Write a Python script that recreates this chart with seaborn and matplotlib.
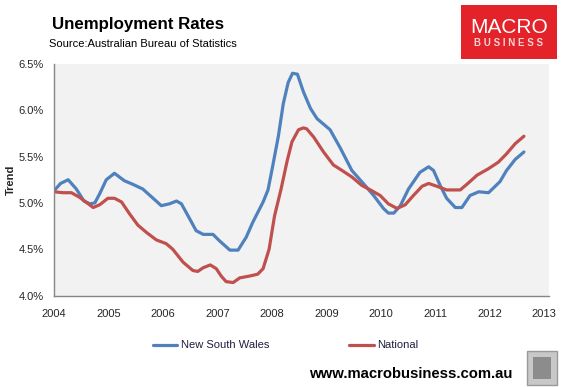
import matplotlib
matplotlib.use("Agg")
import matplotlib.pyplot as plt
import seaborn as sns
import pandas as pd
from matplotlib.patches import Rectangle

# ---- data ----
nsw_dates = [2004.00, 2004.12, 2004.26, 2004.41, 2004.55, 2004.66, 2004.75, 2004.84, 2004.96,
             2005.11, 2005.29, 2005.45, 2005.63, 2005.82, 2005.97, 2006.12, 2006.25, 2006.34,
             2006.49, 2006.61, 2006.74, 2006.92, 2007.04, 2007.23, 2007.38, 2007.53, 2007.65,
             2007.84, 2007.93, 2008.02, 2008.12, 2008.21, 2008.30, 2008.38, 2008.47, 2008.58,
             2008.71, 2008.83, 2009.07, 2009.26, 2009.47, 2009.68, 2009.87, 2010.05, 2010.14,
             2010.24, 2010.36, 2010.51, 2010.72, 2010.88, 2010.97, 2011.09, 2011.21, 2011.37,
             2011.49, 2011.64, 2011.80, 2011.98, 2012.19, 2012.31, 2012.47, 2012.63]
nsw_values = [5.13, 5.21, 5.25, 5.15, 5.02, 4.99, 5.00, 5.10, 5.25,
              5.32, 5.24, 5.20, 5.15, 5.05, 4.97, 4.99, 5.02, 4.99,
              4.83, 4.70, 4.66, 4.66, 4.59, 4.49, 4.49, 4.63, 4.79,
              5.01, 5.14, 5.41, 5.72, 6.07, 6.30, 6.40, 6.39, 6.20,
              6.02, 5.91, 5.79, 5.59, 5.35, 5.21, 5.08, 4.94, 4.89,
              4.89, 4.97, 5.15, 5.33, 5.39, 5.35, 5.19, 5.05, 4.95,
              4.95, 5.08, 5.12, 5.11, 5.23, 5.35, 5.47, 5.55]

nat_dates = [2004.00, 2004.17, 2004.32, 2004.47, 2004.72, 2004.84, 2004.99, 2005.11, 2005.24,
             2005.39, 2005.54, 2005.70, 2005.88, 2006.06, 2006.18, 2006.37, 2006.55, 2006.64,
             2006.74, 2006.87, 2006.98, 2007.07, 2007.16, 2007.29, 2007.41, 2007.59, 2007.74,
             2007.84, 2007.95, 2008.05, 2008.17, 2008.28, 2008.37, 2008.49, 2008.58, 2008.64,
             2008.77, 2008.95, 2009.13, 2009.29, 2009.47, 2009.65, 2009.81, 2009.99, 2010.14,
             2010.30, 2010.45, 2010.60, 2010.76, 2010.88, 2011.03, 2011.21, 2011.34, 2011.46,
             2011.58, 2011.77, 2011.98, 2012.16, 2012.31, 2012.47, 2012.63]
nat_values = [5.12, 5.11, 5.11, 5.06, 4.95, 4.98, 5.05, 5.05, 5.01,
              4.88, 4.76, 4.68, 4.60, 4.56, 4.50, 4.36, 4.27, 4.26,
              4.30, 4.33, 4.29, 4.21, 4.15, 4.14, 4.19, 4.21, 4.23,
              4.29, 4.50, 4.86, 5.15, 5.45, 5.66, 5.79, 5.81, 5.80,
              5.71, 5.55, 5.41, 5.35, 5.28, 5.19, 5.14, 5.08, 4.99,
              4.94, 4.98, 5.08, 5.18, 5.21, 5.18, 5.14, 5.14, 5.14,
              5.20, 5.30, 5.37, 5.44, 5.53, 5.64, 5.72]

series_names = ["New South Wales", "National"]
x_ticks = list(range(2004, 2014))
y_ticks = [4.0, 4.5, 5.0, 5.5, 6.0, 6.5]
y_tick_labels = ["4.0%", "4.5%", "5.0%", "5.5%", "6.0%", "6.5%"]

df = pd.concat([
    pd.DataFrame({"date": nsw_dates, "rate": nsw_values, "series": series_names[0]}),
    pd.DataFrame({"date": nat_dates, "rate": nat_values, "series": series_names[1]}),
], ignore_index=True)

# ---- figure ----
sns.set_theme(style="white")
plt.rcParams["font.family"] = ["Liberation Sans", "DejaVu Sans"]

W, H = 568, 387
fig = plt.figure(figsize=(W / 100, H / 100), dpi=100)
ax = fig.add_axes([54 / W, 1 - 295.5 / H, (549 - 54) / W, (295.5 - 64) / H])
ax.set_facecolor("#F2F2F2")

palette = {"New South Wales": "#4F81BD", "National": "#C0504D"}
sns.lineplot(data=df, x="date", y="rate", hue="series", palette=palette,
             linewidth=2.3, ax=ax, legend=False, sort=False, estimator=None)
for ln in ax.lines:
    ln.set_solid_capstyle("round")
    ln.set_solid_joinstyle("round")

ax.set_xlim(2004, 2013.09)
ax.set_ylim(4.0, 6.5)
ax.set_xticks(x_ticks)
ax.set_xticklabels([str(t) for t in x_ticks], fontsize=8)
ax.set_yticks(y_ticks)
ax.set_yticklabels(y_tick_labels, fontsize=8)
ax.tick_params(axis="x", direction="in", length=3, color="#868686", pad=10)
ax.tick_params(axis="y", length=0, pad=7.5)
for s in ["top", "right"]:
    ax.spines[s].set_visible(False)
for s in ["left", "bottom"]:
    ax.spines[s].set_color("#868686")
    ax.spines[s].set_linewidth(1.0)
ax.set_xlabel("")
ax.set_ylabel("Trend", fontsize=8, fontweight="bold")
ax.yaxis.set_label_coords(-(54 - 16) / 495, 0.5)
ax.grid(False)

# legend
handles = ax.lines[:2]
leg = fig.legend(handles, series_names, loc="center left",
                 bbox_to_anchor=(153 / W, 1 - 345.5 / H), ncol=2, frameon=False,
                 fontsize=8, handlelength=2.2, handletextpad=0.3, columnspacing=7.2,
                 borderpad=0, borderaxespad=0)
for t in leg.get_texts():
    t.set_color("#1F1F3F")

# titles
fig.text(52 / W, 1 - 29 / H, "Unemployment Rates", fontsize=12.2, fontweight="bold",
         color="black", ha="left", va="baseline")
fig.text(49 / W, 1 - 47 / H, "Source:Australian Bureau of Statistics", fontsize=8,
         color="black", ha="left", va="baseline")

# logo box
fig.patches.append(Rectangle((461 / W, 1 - 59 / H), 96 / W, 54 / H, transform=fig.transFigure,
                             facecolor="#E3222A", edgecolor="none"))
fig.text(509 / W, 1 - 33 / H, "MACRO", fontsize=15, color="white", ha="center",
         va="baseline")
fig.text(509 / W, 1 - 46 / H, "B U S I N E S S", fontsize=7, color="#F6D4D4",
         ha="center", va="baseline", fontweight="bold")

# website
fig.text(309 / W, 1 - 378 / H, "www.macrobusiness.com.au", fontsize=10.7,
         fontweight="bold", color="black", ha="left", va="baseline")

# wolf badge placeholder
fig.patches.append(Rectangle((527 / W, 1 - 385 / H), 30 / W, 34 / H, transform=fig.transFigure,
                             facecolor="#C8C8C8", edgecolor="#9A9A9A", linewidth=1))
fig.patches.append(Rectangle((533 / W, 1 - 379 / H), 18 / W, 22 / H, transform=fig.transFigure,
                             facecolor="#8C8C8C", edgecolor="none"))

fig.savefig("out.png", dpi=100, facecolor="white")
